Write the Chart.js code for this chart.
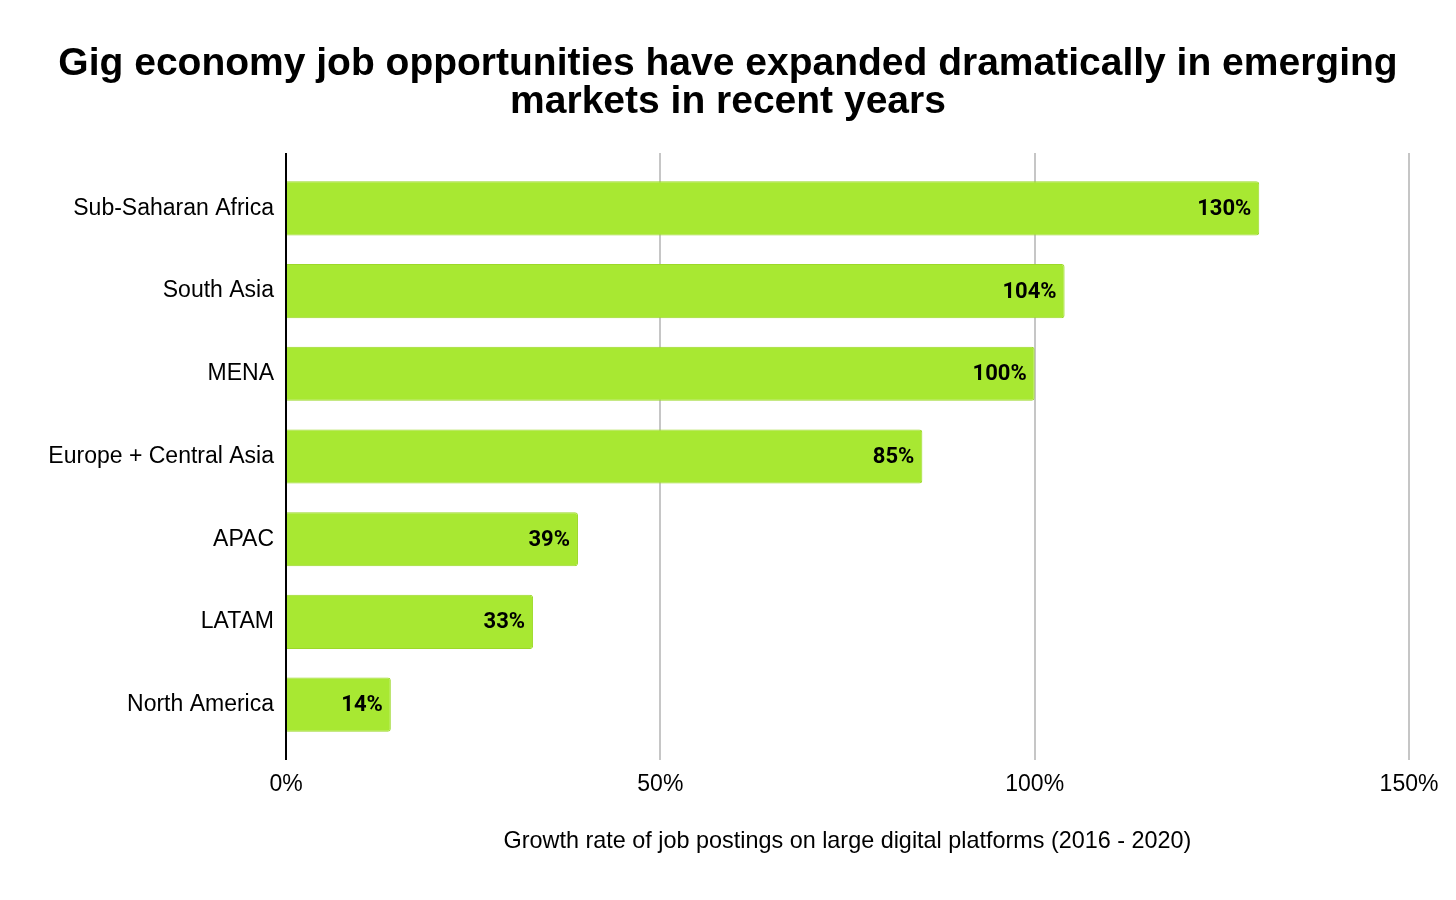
<!DOCTYPE html>
<html>
<head>
<meta charset="utf-8">
<script src="https://cdn.jsdelivr.net/npm/chart.js@4.4.0/dist/chart.umd.min.js"></script>
<style>
html,body{margin:0;padding:0;background:#fff;}
#wrap{width:1456px;height:900px;}
</style>
</head>
<body>
<div id="wrap"><canvas id="c" width="1456" height="900"></canvas></div>
<script>
const categories = ["Sub-Saharan Africa", "South Asia", "MENA", "Europe + Central Asia", "APAC", "LATAM", "North America"];
const growthValues = [130, 104, 100, 85, 39, 33, 14];
const xTickValues = [0, 50, 100, 150];
const chartTitle = ["Gig economy job opportunities have expanded dramatically in emerging", "markets in recent years"];
const xAxisTitle = "Growth rate of job postings on large digital platforms (2016 - 2020)";

const extraLines = {
  id: 'extraLines',
  beforeDatasetsDraw(chart) {
    const {ctx, chartArea, scales} = chart;
    const top = chartArea.top - 14, bottom = chartArea.bottom + 14;
    ctx.save();
    ctx.strokeStyle = '#c6c6c6';
    ctx.lineWidth = 2;
    xTickValues.forEach(v => {
      if (v === 0) return;
      const x = Math.round(scales.x.getPixelForValue(v));
      ctx.beginPath(); ctx.moveTo(x, top); ctx.lineTo(x, bottom); ctx.stroke();
    });
    ctx.restore();
  },
  afterDatasetsDraw(chart) {
    const {ctx, chartArea, scales} = chart;
    const top = chartArea.top - 14, bottom = chartArea.bottom + 14;
    ctx.save();
    ctx.strokeStyle = '#000';
    ctx.lineWidth = 2;
    const x0 = scales.x.getPixelForValue(0);
    ctx.beginPath(); ctx.moveTo(x0, top); ctx.lineTo(x0, bottom); ctx.stroke();
    // value labels
    const meta = chart.getDatasetMeta(0);
    ctx.fillStyle = '#000';
    ctx.font = 'bold 22px Roboto, "Noto Sans", sans-serif';
    ctx.textAlign = 'right';
    ctx.textBaseline = 'middle';
    meta.data.forEach((bar, i) => {
      ctx.fillText(growthValues[i] + '%', bar.x - 8, bar.y + 1);
    });
    // title
    ctx.font = 'bold 39px "Liberation Sans", Arial, sans-serif';
    ctx.textAlign = 'center';
    ctx.textBaseline = 'middle';
    const cx = chart.width / 2;
    ctx.fillText(chartTitle[0], cx, 64);
    ctx.fillText(chartTitle[1], cx, 102);
    ctx.restore();
  }
};

new Chart(document.getElementById('c'), {
  type: 'bar',
  data: {
    labels: categories,
    datasets: [{
      data: growthValues,
      backgroundColor: '#a8e832',
      borderColor: '#9cd829',
      borderWidth: 1,
      borderRadius: 3,
      borderSkipped: 'start',
      categoryPercentage: 1,
      barPercentage: 0.655
    }]
  },
  options: {
    indexAxis: 'y',
    responsive: false,
    animation: false,
    devicePixelRatio: 1,
    layout: { padding: { left: 0, right: 47, top: 167, bottom: 0 } },
    plugins: {
      legend: { display: false },
      tooltip: { enabled: false },
      title: { display: false }
    },
    scales: {
      x: {
        type: 'linear',
        min: 0,
        max: 150,
        afterBuildTicks(scale) { scale.ticks = xTickValues.map(v => ({ value: v })); },
        afterFit(scale) { scale.height = 154; scale.paddingRight = 0; scale.paddingLeft = 0; },
        grid: { display: false, drawTicks: false },
        border: { display: false },
        ticks: {
          padding: 25,
          color: '#000',
          font: { family: '"Liberation Sans", Arial, sans-serif', size: 23 },
          callback: v => v + '%'
        },
        title: {
          display: true,
          text: xAxisTitle,
          color: '#000',
          font: { family: '"Liberation Sans", Arial, sans-serif', size: 23.4, lineHeight: 1.2 },
          padding: { top: 0, bottom: 44 }
        }
      },
      y: {
        afterFit(scale) { scale.width = 286; },
        grid: { display: false, drawTicks: false },
        border: { display: false },
        ticks: {
          padding: 12,
          color: '#000',
          font: { family: '"Liberation Sans", Arial, sans-serif', size: 23 }
        }
      }
    }
  },
  plugins: [extraLines]
});
</script>
</body>
</html>
